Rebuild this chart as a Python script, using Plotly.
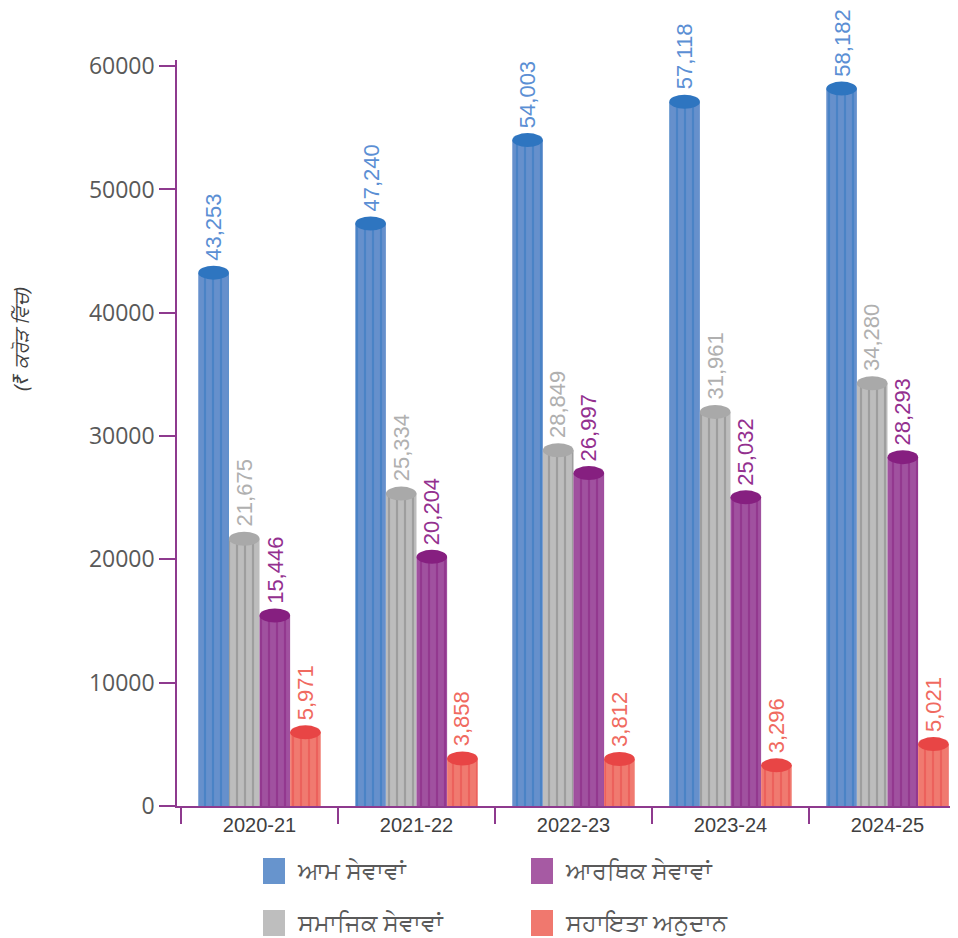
import plotly.graph_objects as go

years = ["2020-21", "2021-22", "2022-23", "2023-24", "2024-25"]
general = [43253, 47240, 54003, 57118, 58182]
social = [21675, 25334, 28849, 31961, 34280]
economic = [15446, 20204, 26997, 25032, 28293]
grants = [5971, 3858, 3812, 3296, 5021]
y_ticks = [0, 10000, 20000, 30000, 40000, 50000, 60000]

names = ["ਆਮ ਸੇਵਾਵਾਂ", "ਸਮਾਜਿਕ ਸੇਵਾਵਾਂ", "ਆਰਥਿਕ ਸੇਵਾਵਾਂ", "ਸਹਾਇਤਾ ਅਨੁਦਾਨ"]
y_title = "(₹ ਕਰੋੜ ਵਿੱਚ)"
series = [general, social, economic, grants]
fills = ["#6690cc", "#bdbdbd", "#a0519f", "#f07a70"]
stripes = ["#2e75c0", "#7f7f7f", "#861f80", "#e84848"]
tops = ["#2e75c0", "#a9a9a9", "#861f80", "#e84545"]
label_cols = ["#5b8fd4", "#b0b0b0", "#93308f", "#f06a60"]
legend_cols = ["#6794cd", "#bebebe", "#a65aa3", "#f0786e"]

AXIS = "#8e3a8e"
BARGAP = 0.22
NUMFONT = "'Liberation Sans', Arial, sans-serif"
TICKFONT = "'Open Sans', sans-serif"
GFONT = "'Noto Sans', sans-serif"

# figure is placed 8px from page top-left (body margin)
W, H = 950, 930
ML, MR, MT, MB = 169, 0, 52, 132
pw, ph = W - ML - MR, H - MT - MB

fig = go.Figure()
for k, (nm, vals) in enumerate(zip(names, series)):
    fig.add_trace(go.Bar(
        x=years, y=vals, name=nm, showlegend=False,
        marker=dict(color=fills[k], line=dict(width=0),
                    pattern=dict(shape="|", fgcolor=stripes[k], bgcolor=fills[k],
                                 size=8, solidity=0.28, fillmode="overlay")),
        hoverinfo="x+y+name",
    ))

w = (1 - BARGAP) / 4
shapes = []
annotations = []
for i in range(len(years)):
    for k, vals in enumerate(series):
        xc = i - (1 - BARGAP) / 2 + (k + 0.5) * w
        v = vals[i]
        shapes.append(dict(type="circle", xref="x", yref="y", x0=xc - w / 2, x1=xc + w / 2,
                           ysizemode="pixel", yanchor=v, y0=-7, y1=7,
                           fillcolor=tops[k], line=dict(width=0), layer="above"))
        annotations.append(dict(x=xc, y=v, xref="x", yref="y", text=f"{v:,}", showarrow=False,
                                textangle=-90, xanchor="center", yanchor="bottom", yshift=10,
                                font=dict(size=22, color=label_cols[k], family=NUMFONT)))

# manual legend (two columns), positions in figure pixels
legend_items = [(0, 255, 850), (2, 523, 850), (1, 255, 902), (3, 523, 902)]
for k, px, py in legend_items:
    x0 = (px - ML) / pw
    x1 = (px + 22 - ML) / pw
    y1 = (H - MB - py) / ph
    y0 = (H - MB - py - 26) / ph
    shapes.append(dict(type="rect", xref="paper", yref="paper", x0=x0, x1=x1, y0=y0, y1=y1,
                       fillcolor=legend_cols[k], line=dict(width=0)))
    annotations.append(dict(xref="paper", yref="paper", x=(px + 32 - ML) / pw,
                            y=(H - MB - py - 11) / ph,
                            text=names[k], showarrow=False, xanchor="left", yanchor="middle",
                            font=dict(size=24, color="#5a5a5a", family=GFONT)))

annotations.append(dict(xref="paper", yref="paper", x=(12 - ML) / pw, y=(H - MB - 331) / ph,
                        text=f"<i>{y_title}</i>", showarrow=False, textangle=-90,
                        xanchor="center", yanchor="middle",
                        font=dict(size=20, color="#404040", family=GFONT)))

cat_w = 157.0
x_start = -0.5 - 4 / cat_w
fig.update_layout(
    width=W, height=H, margin=dict(l=ML, r=MR, t=MT, b=MB),
    barmode="group", bargap=BARGAP, bargroupgap=0,
    plot_bgcolor="white", paper_bgcolor="white",
    shapes=shapes, annotations=annotations, showlegend=False,
    font=dict(family=NUMFONT),
)
fig.update_xaxes(range=[x_start, x_start + pw / cat_w],
                 showline=True, linecolor=AXIS, linewidth=1.5, ticks="outside", tickson="boundaries",
                 tickcolor=AXIS, ticklen=16, tickwidth=1.5,
                 tickfont=dict(size=20, color="#404040", family=NUMFONT), showgrid=False)
fig.update_yaxes(range=[0, 60500], tickvals=y_ticks,
                 tickformat="d", showline=True, linecolor=AXIS, linewidth=1.5, ticks="outside",
                 tickcolor=AXIS, ticklen=16, tickwidth=1.5, showgrid=False, zeroline=False,
                 tickfont=dict(size=23, color="#595959", family=TICKFONT))

fig.write_html("out.html")
